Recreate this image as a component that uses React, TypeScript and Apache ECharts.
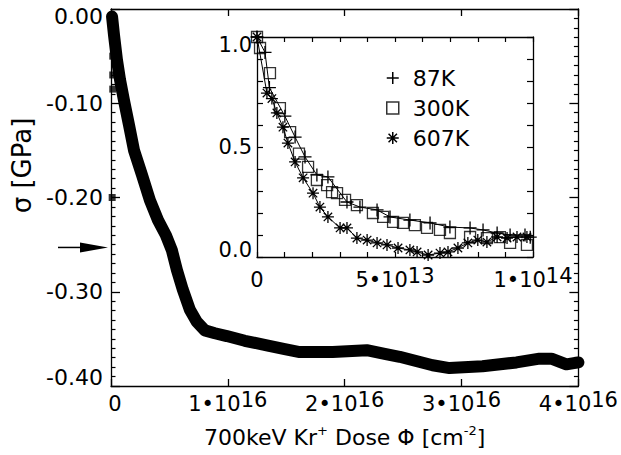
import React, { useEffect, useRef } from "react";
import * as echarts from "echarts";

// ---- main plot: 700 keV Kr+ dose (units of 1e16 cm^-2) vs stress sigma (GPa)
const DOSE_MAIN = [0.009, 0.026, 0.051, 0.077, 0.111, 0.154, 0.197, 0.265, 0.333, 0.402, 0.47, 0.521, 0.564, 0.615, 0.675, 0.735, 0.803, 0.889, 0.991, 1.145, 1.333, 1.487, 1.615, 1.897, 2.188, 2.342, 2.47, 2.752, 2.897, 3.179, 3.47, 3.667, 3.769, 3.897, 4.0];
const SIGMA_MAIN = [-0.008, -0.028, -0.054, -0.075, -0.097, -0.123, -0.15, -0.176, -0.203, -0.224, -0.24, -0.256, -0.277, -0.298, -0.319, -0.332, -0.341, -0.344, -0.347, -0.352, -0.357, -0.361, -0.364, -0.364, -0.362, -0.366, -0.369, -0.378, -0.381, -0.379, -0.375, -0.371, -0.371, -0.377, -0.375];
// scattered early points near zero dose
const DOSE_EARLY = [0.015, 0.015, 0.015, 0.015, 0.015, 0.01];
const SIGMA_EARLY = [-0.01, -0.03, -0.05, -0.07, -0.085, -0.2];

// ---- inset: dose (units of 1e13 cm^-2) vs normalised stress
const DOSE_87K = [0, 0.29, 0.45, 1.01, 1.38, 1.74, 2.17, 2.57, 3.26, 3.73, 4.35, 4.82, 5.54, 6.27, 6.99, 7.72, 8.19, 8.7, 9.17, 9.71, 9.9];
const NORM_87K = [1.0, 0.93, 0.77, 0.64, 0.545, 0.455, 0.373, 0.364, 0.25, 0.227, 0.214, 0.182, 0.168, 0.155, 0.136, 0.132, 0.123, 0.109, 0.1, 0.1, 0.09];
const DOSE_300K = [0, 0.11, 0.47, 0.83, 1.2, 1.52, 1.85, 2.17, 2.54, 2.72, 2.9, 3.19, 3.62, 4.2, 4.57, 4.93, 5.29, 5.72, 6.16, 6.63, 6.99, 7.72, 8.33, 8.8, 9.17, 9.78];
const NORM_300K = [1.0, 0.95, 0.836, 0.677, 0.568, 0.47, 0.41, 0.35, 0.327, 0.295, 0.29, 0.26, 0.236, 0.2, 0.182, 0.16, 0.155, 0.145, 0.132, 0.123, 0.109, 0.091, 0.086, 0.09, 0.064, 0.055];
const DOSE_607K = [0, 0.36, 0.54, 0.72, 0.94, 1.12, 1.38, 1.67, 2.03, 2.28, 2.57, 3.01, 3.26, 3.62, 3.99, 4.35, 4.71, 5.11, 5.54, 5.8, 6.2, 6.63, 6.92, 7.28, 7.64, 8.0, 8.33, 8.7, 9.06, 9.42, 9.78];
const NORM_607K = [1.0, 0.745, 0.72, 0.655, 0.59, 0.518, 0.432, 0.36, 0.29, 0.227, 0.182, 0.132, 0.132, 0.086, 0.077, 0.064, 0.055, 0.041, 0.032, 0.023, 0.009, 0.018, 0.023, 0.041, 0.064, 0.077, 0.068, 0.091, 0.086, 0.091, 0.091];

const SERIES_NAMES = ["87K", "300K", "607K"];

// ---- tick labels
const MAIN_X_TICKS = [0, 1, 2, 3, 4];
const MAIN_X_LABELS = ["0", "1•10^16", "2•10^16", "3•10^16", "4•10^16"];
const MAIN_Y_TICKS = [0, -0.1, -0.2, -0.3, -0.4];
const MAIN_Y_LABELS = ["0.00", "-0.10", "-0.20", "-0.30", "-0.40"];
const INSET_X_TICKS = [0, 5, 10];
const INSET_X_LABELS = ["0", "5•10^13", "1•10^14"];
const INSET_Y_TICKS = [0, 0.5, 1];
const INSET_Y_LABELS = ["0.0", "0.5", "1.0"];
const ARROW_SIGMA = -0.253;

const X_TITLE = "700keV Kr{s|+} Dose Φ [cm{s|-2}]";
const Y_TITLE = "σ [GPa]";

const FONT = "DejaVu Sans";
const PLUS = "path://M0,5L10,5M5,0L5,10";
const SQUARE = "path://M0,0L10,0L10,10L0,10Z";
const STAR = "path://M5,0L5,10M0,5L10,5M1.5,1.5L8.5,8.5M8.5,1.5L1.5,8.5";

function zip(a: number[], b: number[]) {
  return a.map((v, i) => [v, b[i]]);
}

function findLabel(ticks: number[], v: number): number {
  for (let i = 0; i < ticks.length; i++) if (Math.abs(ticks[i] - v) < 1e-6) return i;
  return -1;
}

function supFmt(ticks: number[], labels: string[], firstStyle: string) {
  return (v: number) => {
    const i = findLabel(ticks, v);
    if (i < 0) return "";
    const t = labels[i];
    if (t.indexOf("^") >= 0) {
      const [a, b] = t.split("^");
      return `{n|${a}}{s|${b}}`;
    }
    return i === 0 ? `{${firstStyle}|${t}}` : `{n|${t}}`;
  };
}

function endFmt(ticks: number[], labels: string[]) {
  return (v: number) => {
    const i = findLabel(ticks, v);
    if (i < 0) return "";
    const t = labels[i];
    const maxI = ticks.indexOf(Math.max(...ticks));
    const minI = ticks.indexOf(Math.min(...ticks));
    if (i === maxI) return `{top|${t}}`;
    if (i === minI) return `{bot|${t}}`;
    return t;
  };
}

export default function App() {
  const ref = useRef<HTMLDivElement>(null);
  useEffect(() => {
    if (!ref.current) return;
    const chart = echarts.init(ref.current, undefined, { renderer: "svg" });
    const black = "#000";
    const axLine = { show: true, onZero: false, lineStyle: { color: black, width: 1.3 } };
    const base = { fontFamily: FONT, color: black };

    const mainXLabel = {
      margin: 3,
      formatter: supFmt(MAIN_X_TICKS, MAIN_X_LABELS, "z"),
      rich: {
        n: { ...base, fontSize: 21, lineHeight: 30 },
        z: { ...base, fontSize: 21, lineHeight: 30, padding: [0, 0, 0, 8] },
        s: { ...base, fontSize: 21, lineHeight: 14, verticalAlign: "top" },
      },
    };
    const insetXLabel = {
      margin: 8,
      formatter: supFmt(INSET_X_TICKS, INSET_X_LABELS, "n"),
      rich: {
        n: { ...base, fontSize: 21, lineHeight: 30 },
        s: { ...base, fontSize: 21, lineHeight: 4, verticalAlign: "top" },
      },
    };

    const option: any = {
      animation: false,
      backgroundColor: "#fff",
      grid: [
        { left: 111, top: 9, width: 468, height: 377, show: false },
        { left: 257, top: 37, width: 276, height: 220, show: true, backgroundColor: "#fff", borderWidth: 0, z: 5 },
      ],
      xAxis: [
        {
          type: "value", gridIndex: 0, position: "bottom", min: 0, max: 4, interval: 1,
          axisLine: axLine, axisTick: { inside: true, length: 7, lineStyle: { color: black, width: 1.3 } },
          splitLine: { show: false }, axisLabel: mainXLabel,
          name: X_TITLE, nameLocation: "middle", nameGap: 38,
          nameTextStyle: {
            ...base, fontSize: 22, lineHeight: 26,
            rich: { s: { ...base, fontSize: 13, lineHeight: 12, verticalAlign: "top" } },
          },
        },
        {
          type: "value", gridIndex: 0, position: "top", min: 0, max: 4, interval: 1,
          axisLine: axLine, axisTick: { inside: true, length: 7, lineStyle: { color: black, width: 1.3 } },
          splitLine: { show: false }, axisLabel: { show: false },
        },
        {
          type: "value", gridIndex: 1, position: "bottom", min: 0, max: 10, interval: 1, z: 6,
          axisLine: axLine, axisTick: { inside: true, length: 5, lineStyle: { color: black, width: 1.2 } },
          splitLine: { show: false }, axisLabel: insetXLabel,
        },
        {
          type: "value", gridIndex: 1, position: "top", min: 0, max: 10, interval: 1, z: 6,
          axisLine: axLine, axisTick: { inside: true, length: 5, lineStyle: { color: black, width: 1.2 } },
          splitLine: { show: false }, axisLabel: { show: false },
        },
      ],
      yAxis: [
        {
          type: "value", gridIndex: 0, position: "left", min: -0.4, max: 0, interval: 0.1,
          axisLine: axLine, axisTick: { inside: true, length: 9, lineStyle: { color: black, width: 1.3 } },
          minorTick: { show: true, splitNumber: 10, length: 4.5, lineStyle: { color: black, width: 1.2 } },
          splitLine: { show: false }, minorSplitLine: { show: false },
          axisLabel: {
            margin: 8, ...base, fontSize: 22,
            formatter: endFmt(MAIN_Y_TICKS, MAIN_Y_LABELS),
            rich: {
              top: { ...base, fontSize: 22, padding: [14, 0, 0, 0] },
              bot: { ...base, fontSize: 22, padding: [0, 0, 18, 0] },
            },
          },
          name: Y_TITLE, nameLocation: "middle", nameGap: 69, nameRotate: 90,
          nameTextStyle: { ...base, fontSize: 26, padding: [0, 0, 0, 64] },
        },
        {
          type: "value", gridIndex: 0, position: "right", min: -0.4, max: 0, interval: 0.1,
          axisLine: axLine, axisTick: { inside: true, length: 9, lineStyle: { color: black, width: 1.3 } },
          minorTick: { show: true, splitNumber: 10, length: 4.5, lineStyle: { color: black, width: 1.2 } },
          splitLine: { show: false }, minorSplitLine: { show: false }, axisLabel: { show: false },
        },
        {
          type: "value", gridIndex: 1, position: "left", min: 0, max: 1, interval: 0.1, z: 6,
          axisLine: axLine, axisTick: { inside: true, length: 6, lineStyle: { color: black, width: 1.2 } },
          splitLine: { show: false },
          axisLabel: {
            margin: 5, ...base, fontSize: 21,
            formatter: endFmt(INSET_Y_TICKS, INSET_Y_LABELS),
            rich: {
              top: { ...base, fontSize: 21, padding: [16, 0, 0, 0] },
              bot: { ...base, fontSize: 21, padding: [0, 0, 14, 0] },
            },
          },
        },
        {
          type: "value", gridIndex: 1, position: "right", min: 0, max: 1, interval: 0.1, z: 6,
          axisLine: axLine, axisTick: { inside: true, length: 6, lineStyle: { color: black, width: 1.2 } },
          splitLine: { show: false }, axisLabel: { show: false },
        },
      ],
      legend: {
        orient: "vertical", left: 381, top: 60, itemWidth: 30, itemHeight: 12, itemGap: 4,
        selectedMode: false, z: 10,
        textStyle: { ...base, fontSize: 22, lineHeight: 26 },
        itemStyle: { color: "transparent", borderColor: black, borderWidth: 1.5 },
        data: [
          { name: SERIES_NAMES[0], icon: PLUS },
          { name: SERIES_NAMES[1], icon: SQUARE },
          { name: SERIES_NAMES[2], icon: STAR },
        ],
      },
      series: [
        {
          type: "line", xAxisIndex: 0, yAxisIndex: 0, data: zip(DOSE_MAIN, SIGMA_MAIN),
          showSymbol: false, symbol: "none", smooth: false,
          lineStyle: { color: black, width: 12, join: "round", cap: "round" },
          itemStyle: { color: black },
        },
        {
          type: "scatter", xAxisIndex: 0, yAxisIndex: 0, data: zip(DOSE_EARLY, SIGMA_EARLY),
          symbol: "rect", symbolSize: 7, itemStyle: { color: black },
        },
        {
          name: SERIES_NAMES[0], type: "line", xAxisIndex: 2, yAxisIndex: 2, z: 7,
          data: zip(DOSE_87K, NORM_87K), symbol: PLUS, symbolSize: 13, showAllSymbol: true,
          itemStyle: { color: "transparent", borderColor: black, borderWidth: 1.3 },
          lineStyle: { color: black, width: 1 },
        },
        {
          name: SERIES_NAMES[1], type: "scatter", xAxisIndex: 2, yAxisIndex: 2, z: 7,
          data: zip(DOSE_300K, NORM_300K), symbol: SQUARE, symbolSize: 11,
          itemStyle: { color: "transparent", borderColor: black, borderWidth: 1.3 },
        },
        {
          name: SERIES_NAMES[2], type: "line", xAxisIndex: 2, yAxisIndex: 2, z: 7,
          data: zip(DOSE_607K, NORM_607K), symbol: STAR, symbolSize: 12, showAllSymbol: true,
          itemStyle: { color: "transparent", borderColor: black, borderWidth: 1.3 },
          lineStyle: { color: black, width: 1 },
        },
      ],
    };
    chart.setOption(option);

    const p = chart.convertToPixel({ gridIndex: 0 }, [0, ARROW_SIGMA]) as number[];
    if (p) {
      const [px, py] = p;
      chart.setOption({
        graphic: [
          { type: "line", shape: { x1: px - 53, y1: py, x2: px - 25, y2: py }, style: { stroke: black, lineWidth: 1.5 } },
          {
            type: "polygon",
            shape: { points: [[px - 3, py], [px - 31, py - 5], [px - 31, py + 5]] },
            style: { fill: black },
          },
        ],
      });
    }
    return () => chart.dispose();
  }, []);

  return <div ref={ref} style={{ position: "fixed", left: 0, top: 0, width: 621, height: 455 }} />;
}
